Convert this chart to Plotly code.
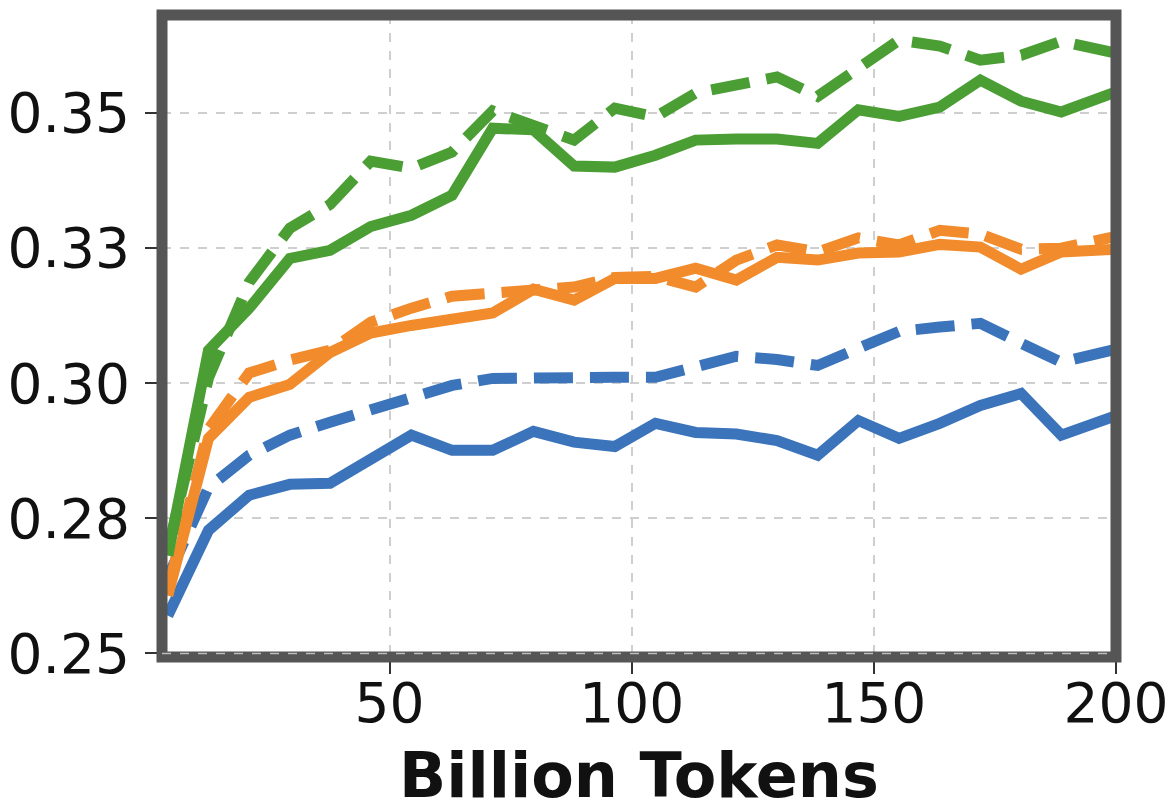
import plotly.graph_objects as go

# Checkpoints along training (billions of tokens)
tokens = [4.2, 12.6, 21.0, 29.4, 37.7, 46.1, 54.5, 62.9, 71.3, 79.7, 88.1, 96.5,
          104.9, 113.2, 121.6, 130.0, 138.4, 146.8, 155.2, 163.6, 172.0, 180.4, 188.7, 200.0]

blue_solid = [0.2570, 0.2728, 0.2793, 0.2813, 0.2815, 0.2857, 0.2904, 0.2876, 0.2876, 0.2911,
              0.2891, 0.2883, 0.2926, 0.2909, 0.2906, 0.2894, 0.2867, 0.2931, 0.2898, 0.2926,
              0.2959, 0.2981, 0.2904, 0.2940]
blue_dashed = [0.2641, 0.2807, 0.2867, 0.2904, 0.2928, 0.2952, 0.2976, 0.2996, 0.3009, 0.3011,
               0.3011, 0.3011, 0.3011, 0.3033, 0.3050, 0.3044, 0.3033, 0.3065, 0.3096, 0.3104,
               0.3111, 0.3074, 0.3039, 0.3063]
orange_solid = [0.2607, 0.2898, 0.2974, 0.2998, 0.3057, 0.3093, 0.3107, 0.3117, 0.3130, 0.3174,
                0.3154, 0.3194, 0.3194, 0.3213, 0.3191, 0.3233, 0.3228, 0.3241, 0.3243, 0.3257,
                0.3252, 0.3211, 0.3243, 0.3248]
orange_dashed = [0.2617, 0.2915, 0.3019, 0.3043, 0.3061, 0.3113, 0.3139, 0.3161, 0.3167, 0.3170,
                 0.3178, 0.3196, 0.3198, 0.3178, 0.3228, 0.3256, 0.3243, 0.3269, 0.3256, 0.3283,
                 0.3276, 0.3248, 0.3250, 0.3272]
green_solid = [0.2681, 0.3061, 0.3139, 0.3231, 0.3246, 0.3290, 0.3311, 0.3348, 0.3472, 0.3469,
               0.3402, 0.3400, 0.3422, 0.3450, 0.3452, 0.3452, 0.3444, 0.3506, 0.3494, 0.3511,
               0.3561, 0.3522, 0.3502, 0.3539]
green_dashed = [0.2691, 0.3010, 0.3187, 0.3287, 0.3331, 0.3411, 0.3398, 0.3428, 0.3504, 0.3478,
                0.3450, 0.3509, 0.3493, 0.3537, 0.3552, 0.3567, 0.3531, 0.3583, 0.3635, 0.3624,
                0.3598, 0.3607, 0.3633, 0.3611]

x_ticks = [50, 100, 150, 200]
y_ticks = [0.25, 0.275, 0.30, 0.325, 0.35]
y_tick_labels = ["0.25", "0.28", "0.30", "0.33", "0.35"]

BLUE = "#3b74ba"
ORANGE = "#f18b2c"
GREEN = "#4a9e34"
DASH = "39px,17px"
FONT = "DejaVu Sans"

series = [
    (blue_solid, BLUE, "solid"),
    (blue_dashed, BLUE, DASH),
    (orange_solid, ORANGE, "solid"),
    (orange_dashed, ORANGE, DASH),
    (green_solid, GREEN, "solid"),
    (green_dashed, GREEN, DASH),
]

fig = go.Figure()
for values, color, dash in series:
    fig.add_trace(go.Scatter(
        x=tokens, y=values, mode="lines",
        line=dict(color=color, width=11, dash=dash),
        hoverinfo="skip",
    ))

axis_common = dict(
    showgrid=True, gridcolor="#cfcfcf", gridwidth=1.5, griddash="dash",
    zeroline=False, showline=False, automargin=False,
    ticks="outside", ticklen=16, tickwidth=2, tickcolor="#333333",
    tickfont=dict(family=FONT, size=55, color="#111111"),
)

fig.update_layout(
    width=1174, height=808,
    margin=dict(l=162, r=58, t=15, b=151),
    paper_bgcolor="white", plot_bgcolor="white",
    showlegend=False,
    xaxis=dict(
        range=[3, 200], tickmode="array", tickvals=x_ticks,
        ticklabelstandoff=-18,
        **axis_common,
    ),
    yaxis=dict(
        range=[0.24935, 0.36815], tickmode="array", tickvals=y_ticks, ticktext=y_tick_labels,
        ticklabelstandoff=4,
        **axis_common,
    ),
    annotations=[
        dict(text="<b>Billion Tokens</b>", xref="paper", yref="paper", x=0.5, y=0,
             xanchor="center", yanchor="top", yshift=-80, showarrow=False,
             font=dict(family=FONT, size=62, color="#111111")),
    ],
    shapes=[
        # thick frame around the plotting area
        dict(type="rect", xref="paper", yref="paper", x0=0, x1=1, y0=0, y1=1,
             line=dict(color="#555555", width=11), layer="above"),
        # light dashed grid line running along the bottom frame
        dict(type="line", xref="paper", yref="y", x0=0, x1=1, y0=0.25, y1=0.25,
             line=dict(color="#bdbdbd", width=1.5, dash="dash"), layer="above"),
    ],
)

fig.write_html("out.html")
